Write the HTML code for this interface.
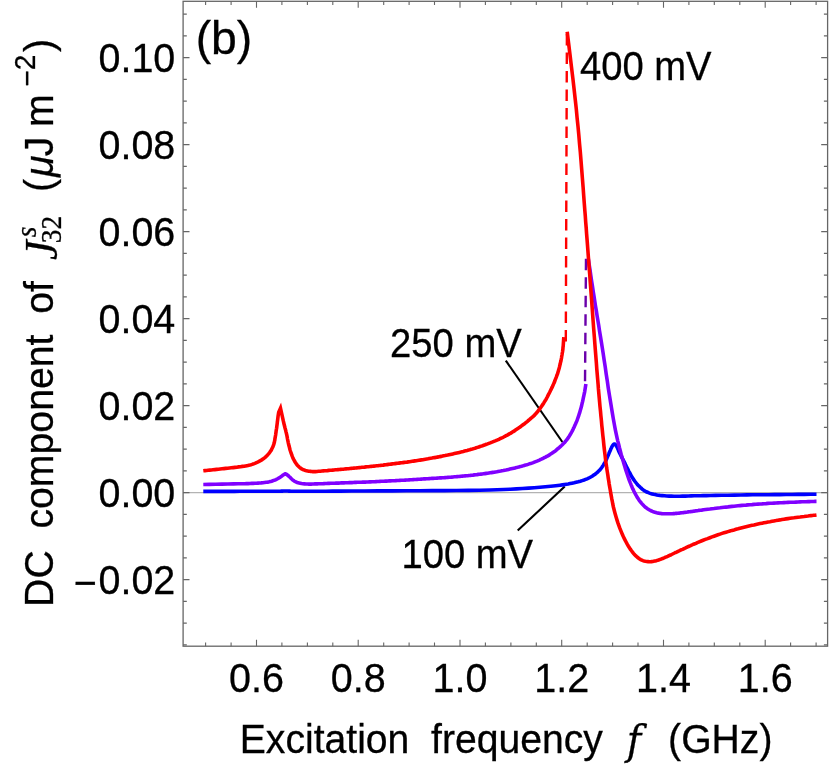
<!DOCTYPE html>
<html lang="en"><head><meta charset="utf-8"><title>DC component vs excitation frequency (b)</title>
<style>html,body{margin:0;padding:0;background:#fff}svg{display:block}text{fill:#000;font-kerning:none;white-space:pre;stroke:#000;stroke-width:.3px}.s{font-family:"Liberation Sans",Arial,Helvetica,sans-serif}.sI{font-family:"Liberation Sans",Arial,Helvetica,sans-serif;font-style:italic}.si{font-family:"Liberation Serif","Times New Roman",serif;font-style:italic}.sr{font-family:"Liberation Serif","Times New Roman",serif}.dj{font-family:"DejaVu Serif","Liberation Serif",serif;font-style:italic}</style></head><body>
<svg width="830" height="771" viewBox="0 0 830 771">
<rect width="830" height="771" fill="#fff"/>
<line x1="183.1" y1="492.6" x2="827.6" y2="492.6" stroke="#b3b3b3" stroke-width="1.1"/>
<g stroke="#000" stroke-width="2.1" fill="none"><line x1="505.8" y1="360.6" x2="562.4" y2="442.0"/><line x1="517.7" y1="530.6" x2="564.7" y2="486.5"/></g>
<g fill="none" stroke-width="3.6" stroke-linejoin="miter" stroke-linecap="butt">
<path stroke="#0000ff" d="M203.3 491.4L209.5 491.4L215.7 491.4L222.0 491.4L228.1 491.4L234.2 491.4L240.0 491.3L245.0 491.3L250.1 491.3L255.0 491.3L259.8 491.3L264.1 491.3L268.0 491.3L270.2 491.3L272.1 491.3L274.0 491.3L275.7 491.2L277.4 491.2L279.0 491.2L280.2 491.2L281.4 491.1L282.5 491.1L283.5 491.0L284.6 491.0L285.7 491.0L286.7 491.0L287.7 491.0L288.8 491.1L289.8 491.1L290.9 491.2L292.0 491.2L293.6 491.2L295.2 491.2L296.9 491.2L298.7 491.2L300.8 491.2L303.0 491.2L307.7 491.2L313.2 491.2L319.3 491.2L325.8 491.2L332.8 491.1L340.0 491.1L351.6 491.0L364.6 491.0L378.4 490.9L392.6 490.9L406.6 490.8L420.0 490.7L432.2 490.6L444.4 490.6L456.6 490.5L468.4 490.4L479.6 490.2L490.0 490.0L497.1 489.8L503.9 489.5L510.3 489.2L516.5 488.9L522.5 488.5L528.6 488.1L534.2 487.7L539.9 487.2L545.4 486.7L550.8 486.2L555.7 485.7L560.0 485.2L562.3 484.9L564.4 484.6L566.4 484.3L568.2 484.0L570.1 483.6L572.0 483.2L574.1 482.8L576.1 482.3L578.2 481.8L580.3 481.2L582.2 480.6L584.1 480.0L585.6 479.4L587.1 478.8L588.5 478.2L589.9 477.5L591.2 476.8L592.5 476.0L593.8 475.1L595.1 474.2L596.4 473.2L597.6 472.2L598.7 471.1L599.8 470.0L600.7 468.9L601.6 467.8L602.4 466.6L603.2 465.4L603.9 464.2L604.6 463.0L605.3 461.8L605.9 460.5L606.5 459.2L607.1 457.9L607.6 456.6L608.2 455.3L608.7 454.1L609.2 452.8L609.8 451.6L610.3 450.4L610.7 449.3L611.2 448.3L611.5 447.6L611.8 447.0L612.1 446.4L612.4 445.9L612.7 445.4L613.0 445.0L613.3 444.7L613.5 444.5L613.8 444.3L614.1 444.1L614.3 444.0L614.6 444.0L614.9 444.1L615.2 444.3L615.5 444.7L615.8 445.0L616.1 445.5L616.4 445.9L616.8 446.7L617.2 447.5L617.7 448.5L618.1 449.5L618.5 450.6L619.0 451.7L619.7 453.2L620.5 454.7L621.3 456.4L622.2 458.0L623.1 459.7L623.9 461.3L624.7 462.9L625.5 464.6L626.3 466.2L627.1 467.8L627.9 469.4L628.7 471.0L629.5 472.5L630.3 473.9L631.0 475.4L631.8 476.8L632.7 478.1L633.5 479.4L634.3 480.5L635.0 481.5L635.8 482.5L636.6 483.5L637.4 484.5L638.3 485.4L639.2 486.3L640.2 487.3L641.2 488.2L642.2 489.1L643.2 489.9L644.3 490.6L645.3 491.2L646.3 491.8L647.4 492.2L648.4 492.7L649.5 493.1L650.7 493.5L652.1 493.9L653.6 494.3L655.1 494.6L656.7 494.9L658.3 495.2L660.0 495.4L662.1 495.6L664.4 495.8L666.7 496.0L669.1 496.1L671.5 496.1L674.0 496.2L676.8 496.2L679.6 496.2L682.4 496.1L685.3 496.1L688.3 496.0L691.2 495.9L694.2 495.8L697.2 495.8L700.2 495.7L703.2 495.6L706.5 495.6L710.0 495.5L715.5 495.4L721.5 495.3L727.9 495.2L734.4 495.1L740.8 495.0L747.0 494.9L752.6 494.8L758.1 494.8L763.5 494.7L768.9 494.7L774.4 494.6L780.0 494.6L786.0 494.5L792.0 494.5L798.1 494.4L804.3 494.4L810.4 494.3L816.5 494.3"/>
<line x1="586.0" y1="258.7" x2="585.0" y2="383.9" stroke="#6a00aa" stroke-width="2.4" stroke-dasharray="11.6 6.9"/>
<path stroke="#8000ff" d="M203.3 484.5L209.3 484.4L215.6 484.3L221.9 484.1L227.9 484.0L233.5 483.9L238.2 483.8L240.5 483.7L242.6 483.7L244.6 483.7L246.4 483.6L248.2 483.6L250.0 483.5L251.7 483.4L253.3 483.4L254.9 483.3L256.4 483.2L258.0 483.1L259.6 483.0L261.2 482.9L262.9 482.7L264.6 482.5L266.2 482.3L267.8 482.1L269.3 481.8L270.5 481.5L271.7 481.2L272.8 480.8L273.9 480.4L275.0 480.0L276.0 479.6L276.8 479.2L277.6 478.8L278.4 478.3L279.1 477.9L279.8 477.4L280.5 477.0L281.0 476.6L281.6 476.2L282.1 475.8L282.6 475.4L283.0 475.1L283.5 474.8L283.8 474.6L284.2 474.4L284.5 474.2L284.9 474.0L285.2 473.9L285.5 473.9L285.8 474.0L286.1 474.1L286.5 474.3L286.8 474.5L287.1 474.8L287.4 475.0L287.7 475.3L288.0 475.5L288.3 475.8L288.7 476.1L289.0 476.4L289.4 476.8L290.1 477.4L290.9 478.2L291.7 479.0L292.6 479.8L293.6 480.6L294.5 481.2L295.4 481.7L296.3 482.1L297.2 482.5L298.2 482.8L299.2 483.1L300.2 483.3L301.5 483.6L303.0 483.8L304.5 483.9L306.0 484.0L307.5 484.0L308.9 484.1L310.1 484.1L311.3 484.1L312.5 484.0L313.6 484.0L314.8 483.9L316.0 483.9L317.3 483.9L318.6 483.8L320.0 483.8L321.3 483.7L322.7 483.7L324.0 483.6L325.3 483.5L326.7 483.5L328.0 483.4L329.3 483.4L330.7 483.3L332.0 483.3L333.3 483.2L334.7 483.2L336.0 483.1L337.3 483.1L338.7 483.1L340.0 483.0L341.3 482.9L342.7 482.9L344.0 482.9L345.3 482.8L346.7 482.8L348.0 482.7L349.3 482.6L350.7 482.6L352.0 482.6L353.3 482.5L354.7 482.4L356.0 482.4L357.3 482.3L358.7 482.3L360.0 482.2L361.3 482.2L362.7 482.1L364.0 482.1L365.3 482.1L366.7 482.0L368.0 482.0L369.3 481.9L370.7 481.9L372.0 481.8L373.3 481.7L374.7 481.7L376.0 481.6L377.3 481.5L378.7 481.5L380.0 481.4L381.3 481.3L382.6 481.3L383.9 481.2L385.3 481.1L386.6 481.1L387.9 481.0L389.2 480.9L390.6 480.9L391.9 480.8L393.2 480.7L394.6 480.7L395.9 480.6L397.2 480.5L398.6 480.5L399.9 480.4L401.2 480.3L402.6 480.3L403.9 480.2L405.2 480.1L406.6 480.0L407.9 480.0L409.2 479.9L410.6 479.8L411.9 479.7L413.2 479.6L414.6 479.5L415.9 479.5L417.2 479.4L418.6 479.3L419.9 479.2L421.2 479.1L422.6 479.0L423.9 478.9L425.2 478.9L426.6 478.8L427.9 478.7L429.2 478.6L430.6 478.5L431.9 478.4L433.2 478.4L434.6 478.3L435.9 478.2L437.2 478.1L438.5 478.0L439.9 477.9L441.2 477.9L442.5 477.8L443.8 477.7L445.1 477.6L446.5 477.5L447.8 477.4L449.1 477.3L450.5 477.2L451.8 477.1L453.1 477.0L454.5 476.8L455.8 476.7L457.1 476.6L458.5 476.5L459.8 476.4L461.1 476.2L462.4 476.1L463.8 476.0L465.1 475.9L466.4 475.8L467.7 475.7L469.0 475.5L470.4 475.4L471.7 475.2L473.0 475.1L474.4 474.9L475.7 474.7L477.0 474.6L478.3 474.4L479.7 474.3L481.0 474.1L482.3 474.0L483.6 473.8L484.9 473.6L486.2 473.4L487.6 473.2L488.9 473.0L490.2 472.8L491.5 472.6L492.8 472.4L494.1 472.2L495.5 471.9L496.8 471.7L498.1 471.4L499.4 471.2L500.7 471.0L502.0 470.7L503.4 470.5L504.7 470.2L506.0 470.0L507.3 469.7L508.6 469.4L509.9 469.1L511.2 468.8L512.5 468.5L513.8 468.2L515.1 467.9L516.4 467.6L517.7 467.3L519.0 466.9L520.3 466.6L521.6 466.3L522.9 465.9L524.2 465.5L525.5 465.1L526.8 464.8L528.0 464.4L529.3 463.9L530.6 463.5L531.9 463.1L533.2 462.6L534.4 462.1L535.7 461.6L537.0 461.1L538.2 460.6L539.4 460.1L540.7 459.5L541.9 458.9L543.1 458.3L544.3 457.7L545.5 457.1L546.7 456.4L547.9 455.8L549.1 455.1L550.3 454.3L551.5 453.6L552.6 452.8L553.7 452.0L554.9 451.2L556.0 450.3L557.0 449.4L558.1 448.5L559.2 447.6L560.3 446.6L561.5 445.5L562.6 444.4L563.7 443.3L564.8 442.2L565.8 441.0L566.7 439.8L567.6 438.6L568.5 437.4L569.3 436.1L570.1 434.8L570.8 433.6L571.6 432.2L572.3 430.9L573.0 429.5L573.6 428.1L574.3 426.7L574.9 425.3L575.5 424.0L576.1 422.6L576.7 421.2L577.2 419.9L577.7 418.5L578.2 417.1L578.7 415.7L579.1 414.3L579.6 412.9L580.0 411.5L580.4 410.1L580.8 408.7L581.2 407.3L581.6 405.8L581.9 404.4L582.2 403.0L582.6 401.5L582.9 400.1L583.2 398.7L583.5 397.2L583.8 395.8L584.1 394.4L584.4 393.0L584.7 391.6L584.9 390.3L585.1 389.0L585.3 387.8L585.5 386.5L585.7 385.3L585.9 384.0"/>
<path stroke="#8000ff" d="M588.3 258.7L589.1 264.3L590.0 269.9L590.8 275.5L591.6 281.0L592.5 286.5L593.3 291.9L594.1 296.7L594.8 301.4L595.5 306.0L596.3 310.6L597.0 315.2L597.8 320.0L598.7 325.3L599.5 330.7L600.4 336.1L601.3 341.6L602.2 347.2L603.1 353.0L604.1 359.7L605.2 366.8L606.2 373.9L607.3 381.1L608.3 388.2L609.4 395.0L610.4 401.1L611.4 407.3L612.4 413.4L613.4 419.2L614.4 424.8L615.4 430.1L616.2 433.9L617.0 437.6L617.8 441.1L618.7 444.4L619.4 447.5L620.2 450.5L620.7 452.5L621.2 454.4L621.7 456.1L622.2 457.9L622.7 459.6L623.2 461.3L623.7 463.0L624.2 464.7L624.7 466.3L625.2 468.0L625.7 469.6L626.2 471.2L626.7 472.7L627.2 474.2L627.7 475.7L628.2 477.1L628.7 478.6L629.2 480.0L629.7 481.3L630.2 482.6L630.7 483.8L631.2 485.1L631.7 486.3L632.2 487.5L632.7 488.6L633.2 489.6L633.7 490.7L634.2 491.7L634.7 492.7L635.2 493.7L635.7 494.6L636.2 495.5L636.7 496.4L637.2 497.3L637.7 498.1L638.2 498.8L638.5 499.3L638.8 499.7L639.0 500.1L639.3 500.5L639.6 500.9L640.0 501.4L640.7 502.2L641.4 503.1L642.3 504.1L643.2 505.1L644.1 506.0L645.0 506.8L645.8 507.5L646.6 508.1L647.5 508.7L648.3 509.2L649.1 509.7L650.0 510.2L650.8 510.6L651.6 511.0L652.5 511.4L653.3 511.7L654.2 512.0L655.0 512.3L655.8 512.5L656.7 512.8L657.5 513.0L658.3 513.1L659.2 513.3L660.0 513.4L660.8 513.5L661.7 513.6L662.5 513.7L663.3 513.7L664.2 513.8L665.0 513.8L665.8 513.8L666.7 513.8L667.5 513.8L668.3 513.8L669.2 513.8L670.0 513.8L670.8 513.8L671.7 513.7L672.5 513.7L673.3 513.6L674.2 513.6L675.0 513.5L675.8 513.4L676.7 513.4L677.5 513.3L678.3 513.2L679.2 513.1L680.0 513.0L680.8 512.9L681.7 512.8L682.5 512.7L683.3 512.6L684.2 512.5L685.0 512.4L685.8 512.3L686.7 512.2L687.5 512.1L688.3 511.9L689.2 511.8L690.0 511.7L690.8 511.6L691.7 511.5L692.5 511.4L693.3 511.2L694.2 511.1L695.0 511.0L695.8 510.9L696.6 510.8L697.4 510.7L698.2 510.6L699.0 510.4L700.0 510.3L701.7 510.1L703.6 509.8L705.7 509.5L707.8 509.2L709.9 509.0L712.0 508.7L714.0 508.5L716.0 508.2L718.0 508.0L720.0 507.8L722.0 507.5L724.0 507.3L726.0 507.1L728.0 506.9L730.0 506.6L732.0 506.4L734.0 506.2L736.0 506.0L738.0 505.8L740.0 505.6L742.0 505.4L744.0 505.2L746.0 505.1L748.0 504.9L750.0 504.7L752.0 504.6L754.0 504.4L756.0 504.3L758.0 504.1L760.0 504.0L762.0 503.9L764.0 503.7L766.0 503.6L768.0 503.4L770.0 503.3L772.0 503.2L774.0 503.1L776.0 503.0L778.0 502.9L780.0 502.8L782.0 502.7L784.0 502.6L786.0 502.5L788.0 502.4L790.0 502.3L792.0 502.3L794.0 502.2L796.0 502.1L798.0 502.0L800.1 501.9L802.1 501.8L804.2 501.7L806.1 501.7L808.0 501.6L809.5 501.6L810.9 501.5L812.3 501.5L813.7 501.5L815.1 501.4L816.5 501.4"/>
<line x1="566.9" y1="34.0" x2="565.8" y2="341.5" stroke="#ff0000" stroke-width="2.4" stroke-dasharray="11.6 6.9"/>
<path stroke="#ff0000" stroke-miterlimit="10" d="M203.3 470.8L204.9 470.6L206.5 470.5L208.1 470.3L209.7 470.1L211.4 470.0L213.0 469.8L214.8 469.6L216.6 469.4L218.4 469.2L220.2 469.0L222.1 468.8L223.9 468.6L225.7 468.4L227.6 468.2L229.5 468.0L231.3 467.8L233.2 467.6L235.0 467.4L236.8 467.2L238.7 466.9L240.5 466.7L242.3 466.4L244.0 466.2L245.6 465.9L246.8 465.7L247.9 465.5L248.9 465.2L249.9 465.0L251.0 464.7L252.0 464.4L253.1 464.0L254.2 463.6L255.4 463.1L256.5 462.6L257.6 462.1L258.6 461.6L259.5 461.1L260.4 460.6L261.3 460.1L262.1 459.6L262.9 459.1L263.7 458.5L264.5 457.9L265.2 457.3L265.9 456.7L266.6 456.0L267.3 455.3L267.9 454.6L268.5 453.9L269.2 453.1L269.8 452.3L270.3 451.5L270.9 450.7L271.4 449.8L271.9 448.8L272.4 447.8L272.9 446.8L273.3 445.7L273.7 444.7L274.0 443.6L274.3 442.5L274.5 441.4L274.8 440.2L274.9 439.1L275.1 437.9L275.3 436.8L275.5 435.7L275.7 434.5L275.8 433.4L276.0 432.3L276.1 431.2L276.3 430.1L276.4 429.2L276.6 428.3L276.7 427.5L276.8 426.6L276.9 425.8L277.0 425.0L277.1 424.3L277.2 423.6L277.3 422.9L277.3 422.3L277.4 421.6L277.5 420.9L278.1 416.0L278.7 412.3L280.5 408.2L283.3 420.9L283.3 420.9L283.5 421.6L283.6 422.2L283.8 422.9L283.9 423.5L284.1 424.2L284.3 425.0L284.6 426.2L284.9 427.5L285.3 428.9L285.7 430.4L286.0 431.9L286.4 433.4L286.8 435.2L287.2 437.1L287.5 439.0L287.9 440.9L288.3 442.8L288.7 444.5L289.0 445.9L289.4 447.2L289.7 448.5L290.0 449.7L290.4 451.0L290.8 452.2L291.2 453.5L291.7 454.7L292.1 455.9L292.6 457.2L293.1 458.4L293.7 459.5L294.2 460.5L294.8 461.5L295.4 462.5L296.1 463.5L296.7 464.4L297.4 465.2L298.1 465.9L298.7 466.6L299.4 467.3L300.1 467.9L300.9 468.4L301.7 468.9L302.6 469.4L303.5 469.8L304.5 470.1L305.5 470.5L306.5 470.7L307.5 470.9L308.5 471.2L309.6 471.3L310.6 471.4L311.7 471.5L312.8 471.6L314.0 471.6L315.5 471.6L317.0 471.5L318.6 471.3L320.3 471.2L321.9 471.0L323.4 470.9L324.8 470.8L326.1 470.7L327.4 470.6L328.8 470.4L330.1 470.3L331.4 470.2L332.7 470.1L334.0 470.0L335.4 469.8L336.7 469.7L338.0 469.6L339.3 469.5L340.6 469.4L342.0 469.3L343.3 469.2L344.6 469.0L346.0 468.9L347.3 468.8L348.6 468.7L350.0 468.5L351.3 468.4L352.6 468.3L354.0 468.1L355.3 468.0L356.6 467.9L357.9 467.7L359.2 467.6L360.6 467.5L361.9 467.3L363.2 467.2L364.5 467.1L365.9 466.9L367.2 466.8L368.5 466.7L369.9 466.5L371.2 466.4L372.5 466.3L373.9 466.1L375.2 466.0L376.5 465.8L377.9 465.7L379.2 465.5L380.5 465.4L381.8 465.2L383.2 465.1L384.5 464.9L385.8 464.8L387.1 464.6L388.4 464.4L389.7 464.3L391.0 464.1L392.4 463.9L393.7 463.8L395.0 463.6L396.3 463.4L397.7 463.3L399.0 463.1L400.3 462.9L401.7 462.8L403.0 462.6L404.3 462.4L405.6 462.2L407.0 462.1L408.3 461.9L409.6 461.7L410.9 461.5L412.2 461.3L413.5 461.1L414.9 460.9L416.2 460.7L417.5 460.5L418.8 460.3L420.1 460.1L421.4 459.9L422.8 459.7L424.1 459.4L425.4 459.2L426.7 459.0L428.0 458.8L429.3 458.5L430.7 458.3L432.0 458.1L433.3 457.8L434.6 457.6L435.9 457.4L437.2 457.1L438.6 456.9L439.9 456.6L441.2 456.4L442.5 456.1L443.8 455.8L445.1 455.6L446.4 455.3L447.7 455.1L449.0 454.8L450.3 454.5L451.6 454.2L452.9 453.9L454.3 453.6L455.6 453.3L456.9 453.0L458.2 452.7L459.5 452.4L460.8 452.1L462.1 451.7L463.3 451.4L464.6 451.0L465.9 450.7L467.2 450.4L468.5 450.0L469.8 449.7L471.1 449.3L472.4 449.0L473.7 448.6L475.0 448.2L476.2 447.8L477.5 447.4L478.8 447.0L480.0 446.5L481.3 446.1L482.6 445.7L483.8 445.2L485.1 444.8L486.4 444.3L487.6 443.9L488.9 443.4L490.2 442.9L491.4 442.4L492.7 441.9L493.9 441.4L495.2 440.9L496.4 440.4L497.6 439.9L498.9 439.3L500.1 438.7L501.3 438.1L502.5 437.6L503.7 437.0L504.9 436.3L506.1 435.7L507.3 435.1L508.5 434.4L509.7 433.7L510.9 433.1L512.1 432.3L513.2 431.6L514.4 430.9L515.5 430.1L516.7 429.3L517.8 428.6L518.9 427.8L520.1 427.0L521.2 426.1L522.3 425.3L523.4 424.5L524.5 423.7L525.5 422.9L526.5 422.1L527.5 421.3L528.4 420.5L529.4 419.7L530.3 418.9L531.1 418.2L531.9 417.5L532.7 416.8L533.5 416.1L534.3 415.4L535.0 414.6L535.8 413.8L536.5 412.9L537.3 412.0L538.0 411.1L538.7 410.2L539.4 409.3L540.0 408.5L540.6 407.7L541.1 406.9L541.6 406.2L542.2 405.4L542.7 404.6L543.2 403.9L543.7 403.1L544.1 402.4L544.6 401.6L545.1 400.8L545.6 400.0L546.3 398.8L547.0 397.5L547.7 396.1L548.4 394.7L549.1 393.4L549.8 392.0L550.4 390.7L551.1 389.4L551.7 388.1L552.3 386.9L552.9 385.6L553.4 384.4L553.8 383.4L554.3 382.4L554.7 381.4L555.0 380.4L555.4 379.4L555.8 378.4L556.2 377.4L556.5 376.5L556.9 375.5L557.2 374.6L557.6 373.6L557.9 372.5L558.3 371.2L558.7 369.8L559.1 368.4L559.5 366.9L559.8 365.5L560.2 364.0L560.5 362.5L560.9 361.0L561.2 359.5L561.5 358.0L561.7 356.5L562.0 355.0L562.2 353.5L562.5 352.0L562.7 350.5L562.9 349.0L563.0 347.5L563.2 346.0L563.3 344.5L563.4 343.1L563.5 341.6L563.6 340.1L563.7 338.7L563.8 337.2"/>
<path stroke="#ff0000" d="M567.2 31.7L568.6 43.2L570.0 54.8L571.4 66.4L572.8 77.9L574.1 89.2L575.3 100.0L576.3 109.1L577.1 117.8L578.0 126.4L578.8 134.9L579.5 143.3L580.3 151.9L581.0 160.6L581.7 169.5L582.4 178.4L583.1 187.1L583.7 195.6L584.3 203.7L584.8 210.1L585.3 216.2L585.7 222.1L586.2 228.0L586.6 233.9L587.1 240.0L587.6 246.7L588.1 253.4L588.6 260.2L589.1 267.1L589.7 274.2L590.2 281.5L590.9 290.5L591.6 300.0L592.3 309.7L593.0 319.4L593.7 328.8L594.4 337.6L594.9 344.3L595.4 350.9L595.9 357.2L596.4 363.3L596.8 369.2L597.3 375.0L597.7 379.7L598.1 384.3L598.4 388.7L598.8 393.1L599.2 397.5L599.6 402.0L600.0 406.6L600.5 411.3L600.9 415.9L601.4 420.6L601.8 425.3L602.3 430.0L602.8 435.1L603.4 440.3L603.9 445.5L604.5 450.7L605.1 455.6L605.6 460.0L606.0 462.9L606.4 465.6L606.7 468.1L607.1 470.5L607.5 473.0L607.9 475.6L608.3 478.4L608.8 481.2L609.2 484.1L609.7 487.0L610.2 489.8L610.7 492.7L611.2 495.6L611.7 498.4L612.3 501.3L612.8 504.2L613.4 507.0L614.1 509.8L614.8 512.5L615.5 515.1L616.3 517.8L617.1 520.4L617.9 522.9L618.8 525.4L619.6 527.7L620.5 529.9L621.4 532.1L622.3 534.2L623.2 536.3L624.2 538.4L625.2 540.3L626.2 542.3L627.2 544.2L628.3 546.0L629.4 547.7L630.5 549.4L631.5 550.8L632.5 552.1L633.5 553.4L634.5 554.6L635.6 555.7L636.7 556.7L637.7 557.5L638.7 558.3L639.7 559.0L640.7 559.6L641.8 560.1L642.9 560.6L644.1 561.0L645.4 561.3L646.7 561.5L648.1 561.6L649.4 561.7L650.6 561.7L651.6 561.6L652.7 561.5L653.7 561.3L654.6 561.1L655.6 560.9L656.6 560.6L657.6 560.3L658.6 560.0L659.6 559.6L660.6 559.3L661.6 558.9L662.6 558.5L663.6 558.1L664.6 557.7L665.6 557.2L666.6 556.8L667.6 556.4L668.6 555.9L669.6 555.4L670.6 555.0L671.6 554.5L672.6 554.0L673.6 553.5L674.6 553.0L675.6 552.5L676.6 552.1L677.6 551.6L678.6 551.1L679.6 550.7L680.6 550.2L681.6 549.7L682.6 549.3L683.6 548.8L684.6 548.3L685.6 547.9L686.6 547.4L687.6 546.9L688.6 546.5L689.6 546.0L690.6 545.6L691.6 545.1L692.6 544.7L693.6 544.2L694.8 543.8L695.9 543.3L696.9 542.8L697.8 542.4L698.6 542.1L698.9 542.0L699.1 541.9L699.3 541.8L699.5 541.7L699.7 541.6L700.0 541.5L701.3 541.0L703.1 540.3L705.3 539.4L707.6 538.6L709.9 537.7L712.0 536.9L714.0 536.2L716.0 535.5L718.0 534.8L720.0 534.1L722.0 533.4L724.0 532.8L726.0 532.2L728.0 531.6L730.0 531.0L732.0 530.4L734.0 529.9L736.0 529.3L738.0 528.8L740.0 528.2L742.0 527.7L744.0 527.2L746.0 526.7L748.0 526.2L750.0 525.7L752.0 525.3L754.0 524.9L756.0 524.4L758.0 524.0L760.0 523.6L762.0 523.2L764.0 522.8L766.0 522.4L768.0 522.0L770.0 521.7L772.0 521.3L774.0 520.9L776.0 520.6L778.0 520.2L780.0 519.9L782.0 519.5L784.0 519.2L786.0 518.9L788.0 518.6L790.0 518.3L792.0 518.0L794.0 517.8L796.0 517.5L798.0 517.2L800.1 517.0L802.1 516.7L804.2 516.5L806.1 516.2L808.0 516.0L809.5 515.8L810.9 515.6L812.3 515.5L813.7 515.3L815.1 515.2L816.5 515.0"/>
</g>
<g stroke="#666" stroke-width="1.3" fill="none">
<rect x="183.1" y="1.3" width="644.5" height="644.9"/>
</g>
<path d="M205.6 646.2v-3.7M205.6 1.3v3.7M231.1 646.2v-3.7M231.1 1.3v3.7M256.5 646.2v-6.4M256.5 1.3v6.4M281.9 646.2v-3.7M281.9 1.3v3.7M307.4 646.2v-3.7M307.4 1.3v3.7M332.8 646.2v-3.7M332.8 1.3v3.7M358.2 646.2v-6.4M358.2 1.3v6.4M383.7 646.2v-3.7M383.7 1.3v3.7M409.1 646.2v-3.7M409.1 1.3v3.7M434.5 646.2v-3.7M434.5 1.3v3.7M460.0 646.2v-6.4M460.0 1.3v6.4M485.4 646.2v-3.7M485.4 1.3v3.7M510.9 646.2v-3.7M510.9 1.3v3.7M536.3 646.2v-3.7M536.3 1.3v3.7M561.7 646.2v-6.4M561.7 1.3v6.4M587.2 646.2v-3.7M587.2 1.3v3.7M612.6 646.2v-3.7M612.6 1.3v3.7M638.0 646.2v-3.7M638.0 1.3v3.7M663.5 646.2v-6.4M663.5 1.3v6.4M688.9 646.2v-3.7M688.9 1.3v3.7M714.3 646.2v-3.7M714.3 1.3v3.7M739.8 646.2v-3.7M739.8 1.3v3.7M765.2 646.2v-6.4M765.2 1.3v6.4M790.6 646.2v-3.7M790.6 1.3v3.7M816.1 646.2v-3.7M816.1 1.3v3.7M183.1 644.9h3.7M827.6 644.9h-3.7M183.1 623.1h3.7M827.6 623.1h-3.7M183.1 601.4h3.7M827.6 601.4h-3.7M183.1 579.6h6.4M827.6 579.6h-6.4M183.1 557.9h3.7M827.6 557.9h-3.7M183.1 536.1h3.7M827.6 536.1h-3.7M183.1 514.4h3.7M827.6 514.4h-3.7M183.1 492.6h6.4M827.6 492.6h-6.4M183.1 470.9h3.7M827.6 470.9h-3.7M183.1 449.1h3.7M827.6 449.1h-3.7M183.1 427.4h3.7M827.6 427.4h-3.7M183.1 405.6h6.4M827.6 405.6h-6.4M183.1 383.9h3.7M827.6 383.9h-3.7M183.1 362.1h3.7M827.6 362.1h-3.7M183.1 340.4h3.7M827.6 340.4h-3.7M183.1 318.6h6.4M827.6 318.6h-6.4M183.1 296.9h3.7M827.6 296.9h-3.7M183.1 275.1h3.7M827.6 275.1h-3.7M183.1 253.4h3.7M827.6 253.4h-3.7M183.1 231.6h6.4M827.6 231.6h-6.4M183.1 209.9h3.7M827.6 209.9h-3.7M183.1 188.1h3.7M827.6 188.1h-3.7M183.1 166.4h3.7M827.6 166.4h-3.7M183.1 144.6h6.4M827.6 144.6h-6.4M183.1 122.9h3.7M827.6 122.9h-3.7M183.1 101.1h3.7M827.6 101.1h-3.7M183.1 79.4h3.7M827.6 79.4h-3.7M183.1 57.6h6.4M827.6 57.6h-6.4M183.1 35.9h3.7M827.6 35.9h-3.7M183.1 14.1h3.7M827.6 14.1h-3.7" stroke="#666" stroke-width="1.1" fill="none"/>
<text class="s" font-size="46.8" transform="translate(195.63 54.30) scale(0.9904 1)">(b)</text>
<text class="s" font-size="41" transform="translate(579.92 79.90) scale(0.9317 1)">400 mV</text>
<text class="s" font-size="41" transform="translate(390.08 357.10) scale(0.9327 1)">250 mV</text>
<text class="s" font-size="41" transform="translate(401.38 567.90) scale(0.9327 1)">100 mV</text>
<text class="s" font-size="41" transform="translate(229.01 692.30) scale(0.9647 1)">0.6</text>
<text class="s" font-size="41" transform="translate(330.75 692.30) scale(0.9647 1)">0.8</text>
<text class="s" font-size="41" transform="translate(432.49 692.30) scale(0.9647 1)">1.0</text>
<text class="s" font-size="41" transform="translate(534.23 692.30) scale(0.9647 1)">1.2</text>
<text class="s" font-size="41" transform="translate(635.97 692.30) scale(0.9647 1)">1.4</text>
<text class="s" font-size="41" transform="translate(737.71 692.30) scale(0.9647 1)">1.6</text>
<text class="s" font-size="41" transform="translate(98.46 71.90) scale(0.9635 1)">0.10</text>
<text class="s" font-size="41" transform="translate(98.46 158.90) scale(0.9635 1)">0.08</text>
<text class="s" font-size="41" transform="translate(98.46 245.90) scale(0.9635 1)">0.06</text>
<text class="s" font-size="41" transform="translate(98.46 332.90) scale(0.9635 1)">0.04</text>
<text class="s" font-size="41" transform="translate(98.46 419.90) scale(0.9635 1)">0.02</text>
<text class="s" font-size="41" transform="translate(98.46 506.90) scale(0.9635 1)">0.00</text>
<text class="s" font-size="41" transform="translate(75.39 593.90) scale(0.9635 1)"><tspan dx="-1.6" dy="2.6">−</tspan><tspan dx="1.6" dy="-2.6">0.02</tspan></text>
<text transform="translate(239.78 752.90) scale(0.9545 1)"><tspan class="s" font-size="41" x="0.00" y="0.00">Excitation  </tspan><tspan class="s" font-size="41" x="200.42" y="0.00">frequency  </tspan><tspan class="dj" font-size="41" x="405.43" y="1.40">f  </tspan><tspan class="s" font-size="41" x="448.77" y="0.00">(GHz)</tspan></text>
<text transform="translate(52.50 0) rotate(-90) scale(0.9570 1)"><tspan class="s" font-size="41" x="-634.17" y="0.00">DC  </tspan><tspan class="s" font-size="41" x="-552.31" y="0.00">component  </tspan><tspan class="s" font-size="41" x="-327.81" y="0.00">of  </tspan><tspan class="si" font-size="46" x="-271.80" y="4.40">J</tspan><tspan class="si" font-size="28.5" x="-247.97" y="-16.80">s</tspan><tspan class="sr" font-size="28.5" x="-254.17" y="8.90">32  </tspan><tspan class="s" font-size="41" x="-200.51" y="0.00">(</tspan><tspan class="sI" font-size="41" x="-184.87" y="0.00">μ</tspan><tspan class="s" font-size="41" x="-163.39" y="0.00">J </tspan><tspan class="s" font-size="41" x="-132.71" y="0.00">m</tspan><tspan class="s" font-size="29.3" x="-90.75" y="-15.60">−</tspan><tspan class="s" font-size="29.3" x="-73.35" y="-18.00">2</tspan><tspan class="s" font-size="41" x="-54.42" y="0.00">)</tspan></text>
</svg></body></html>
